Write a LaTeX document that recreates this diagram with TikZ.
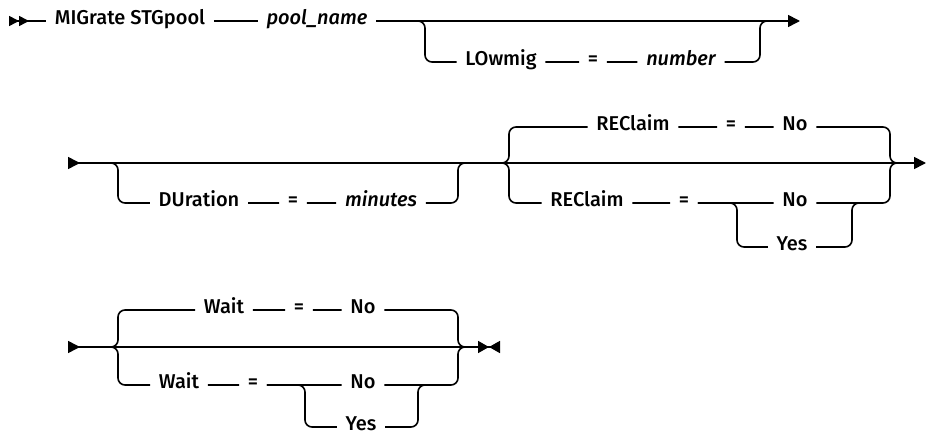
\documentclass[tikz,border=0pt]{standalone}
\usepackage{fontspec}
\setmainfont{Fira Sans}[UprightFont=* Medium,ItalicFont=* Medium Italic]
\usetikzlibrary{arrows.meta}

\begin{document}
\begin{tikzpicture}[
  x=1pt,y=-1pt,line width=1.6pt,
  font=\fontsize{20}{24}\selectfont,
  kw/.style={inner xsep=8pt,inner ysep=0pt,text height=0.69em,text depth=0pt},
  var/.style={kw,font=\fontsize{20}{24}\selectfont\itshape},
  rr/.style={rounded corners=7pt}
]
\useasboundingbox (0,0) rectangle (926,433);
\coordinate (s1) at (9,21); \coordinate (e1) at (800,21);
\node[kw] (mig) at (130,21) {MIGrate STGpool};
\node[var] (pool) at (317,21) {pool\_name};
\node[kw] (low) at (501,62) {LOwmig};
\node[kw] (eq1) at (593,62) {=};
\node[var] (num) at (681,62) {number};
\coordinate (a1) at (425,62); \coordinate (a2) at (760,21); \coordinate (k1) at (772,21);
\draw[{Triangle[length=10pt,width=10pt,reversed]Triangle[length=10pt,width=10pt,reversed]}-] (s1)--(mig);
\draw (mig)--(pool); \draw[-{Triangle[length=12pt,width=12pt]}] (pool)--(e1);
\draw[rr] (pool) -| (a1) -- (low) -- (eq1) -- (num) -| (a2) -- (k1);

\coordinate (s2) at (68,163); \coordinate (e2) at (926,163);
\coordinate (c2) at (95,163); \coordinate (j2) at (502,163); \coordinate (k2) at (897,163);
\node[kw] (dur) at (199,203) {DUration};
\node[kw] (eq2) at (293,203) {=};
\node[var] (mins) at (381,203) {minutes};
\coordinate (b1) at (118,203); \coordinate (b2) at (458,163);
\draw[{Triangle[length=12pt,width=12pt,reversed]}-{Triangle[length=12pt,width=12pt]}] (s2)--(e2);
\draw[rr] (c2) -| (b1) -- (dur) -- (eq2) -- (mins) -| (b2) -- (j2);
\node[kw] (rc1) at (633,127) {REClaim};
\node[kw] (eq3) at (731,127) {=};
\node[kw] (no1) at (795,127) {No};
\node[kw] (rc2) at (587,203) {REClaim};
\node[kw] (eq4) at (684,203) {=};
\node[kw] (no2) at (795,203) {No};
\node[kw] (yes1) at (792,247) {Yes};
\coordinate (t1) at (509,127); \coordinate (t2) at (890,163); \coordinate (t3) at (509,203);
\coordinate (u1) at (737,247); \coordinate (u2) at (852,203); \coordinate (u3) at (862,203);
\draw[rr] (j2) -| (t1) -- (rc1) -- (eq3) -- (no1) -| (t2) -- (k2);
\draw[rr] (j2) -| (t3) -- (rc2) -- (eq4) -- (no2) -| (t2) -- (k2);
\draw[rr] (eq4) -| (u1) -- (yes1) -| (u2) -- (u3);

\coordinate (s3) at (68,347); \coordinate (e3) at (500,347);
\coordinate (j3) at (111,347); \coordinate (k3) at (466,347);
\node[kw] (w1) at (224,310) {Wait};
\node[kw] (eq5) at (299,310) {=};
\node[kw] (no3) at (363,310) {No};
\node[kw] (w2) at (179,385) {Wait};
\node[kw] (eq6) at (253,385) {=};
\node[kw] (no4) at (363,385) {No};
\node[kw] (yes2) at (361,427) {Yes};
\coordinate (v1) at (118,310); \coordinate (v2) at (118,385); \coordinate (v3) at (458,347);
\coordinate (v4) at (305,427); \coordinate (v5) at (418,385); \coordinate (v6) at (428,385);
\draw[{Triangle[length=12pt,width=12pt,reversed]}-{Triangle[length=11pt,width=12pt]Triangle[length=11pt,width=12pt,reversed]}] (s3)--(e3);
\draw[rr] (j3) -| (v1) -- (w1) -- (eq5) -- (no3) -| (v3) -- (k3);
\draw[rr] (j3) -| (v2) -- (w2) -- (eq6) -- (no4) -| (v3) -- (k3);
\draw[rr] (eq6) -| (v4) -- (yes2) -| (v5) -- (v6);
\end{tikzpicture}
\end{document}
